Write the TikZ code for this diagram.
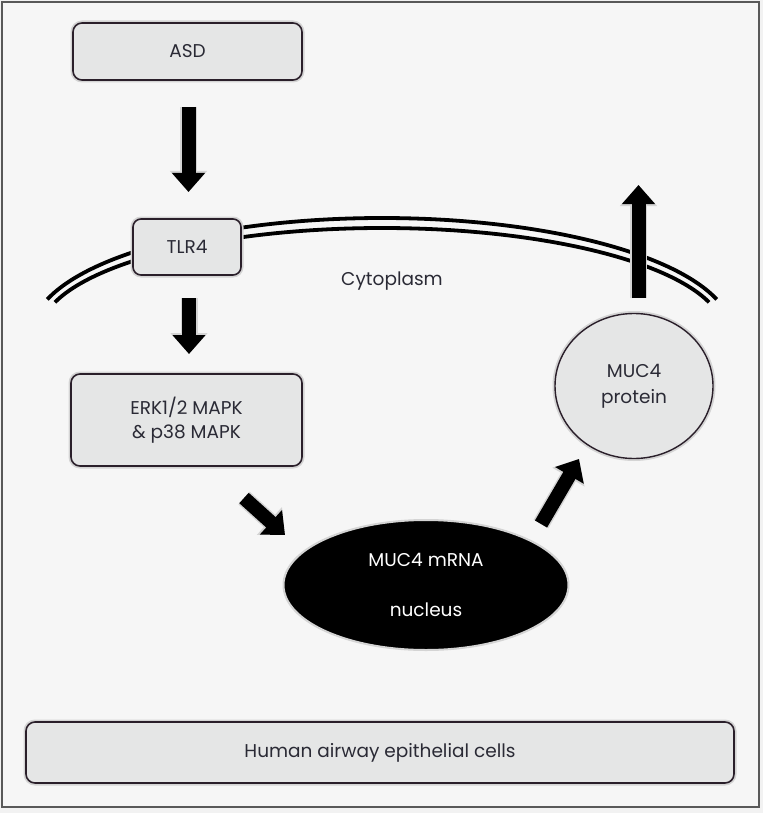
\documentclass[tikz,border=0pt]{standalone}
\usepackage{fontspec}
\setmainfont{Poppins}
\usetikzlibrary{arrows.meta,shapes.geometric}
\definecolor{bgin}{HTML}{F6F6F6}
\definecolor{bgout}{HTML}{F2F2F2}
\definecolor{boxfill}{HTML}{E5E6E6}
\definecolor{boxline}{HTML}{2A1F2A}
\definecolor{halo}{HTML}{D4D4D4}
\definecolor{txt}{HTML}{2A2A35}
\tikzset{
  txtfont/.style={font=\fontsize{18.5}{23}\selectfont},
  rbox/.style={rectangle, rounded corners=9pt, fill=boxfill, draw=boxline, line width=1.6pt,
    preaction={draw=halo, line width=5pt}, txtfont, text=txt, align=center, inner sep=0pt},
  bigarrow/.style={line width=14pt, -{Triangle[width=32pt,length=19pt]},
    preaction={draw=halo, line width=17pt, -{Triangle[width=36pt,length=21pt]}}},
  membrane/.style={line width=3.8pt, black},
  lbl/.style={txtfont, text=txt}
}
\begin{document}
\begin{tikzpicture}[x=1pt,y=-1pt]
\useasboundingbox (0,0) rectangle (763,813);
\fill[bgout] (0,0) rectangle (763,813);
\fill[bgin] (2,2) rectangle (759,807);
\draw[gray!70!black, line width=1.2pt] (2,2) rectangle (759,807);
% membrane
\begin{scope}
\clip (0,0) rectangle (763,304);
\draw[membrane] plot[domain=163:17, samples=120, smooth] ({382+350*cos(\x)}, {333-115*sin(\x)});
\draw[membrane] plot[domain=163:17, samples=120, smooth] ({382+342*cos(\x)}, {333-105*sin(\x)});
\end{scope}
\node[lbl] (cyto) at (392,281) {Cytoplasm};
% nodes
\node[rbox, minimum width=229pt, minimum height=57pt] (asd) at (187.5,51.5) {ASD};
\node[rbox, minimum width=108pt, minimum height=56pt, rounded corners=8pt] (tlr) at (187,247) {TLR4};
\node[rbox, minimum width=231pt, minimum height=92pt] (erk) at (186.5,420) {ERK1/2 MAPK\\[1pt]\& p38 MAPK};
\node[rbox, minimum width=708pt, minimum height=61pt] (cells) at (380,752.5) {Human airway epithelial cells};
\node[ellipse, fill=boxfill, draw=boxline, line width=1.4pt, preaction={draw=halo, line width=5pt},
  minimum width=158pt, minimum height=145pt, inner sep=0pt, align=center, text=txt,
  txtfont] (prot) at (634,386) {MUC4\\[3pt]protein};
\node[ellipse, fill=black, draw=halo, line width=2pt,
  minimum width=285pt, minimum height=130pt, inner sep=0pt, align=center, text=white,
  txtfont] (nuc) at (426,585) {MUC4 mRNA\\[27pt]nucleus};
% arrows
\coordinate (a1s) at (188.5,107);
\coordinate (a1e) at (188.5,192);
\coordinate (a2s) at (189,298);
\coordinate (a2e) at (189,354);
\coordinate (a3s) at (244,498);
\coordinate (a3e) at (285,535);
\coordinate (a4s) at (541,524);
\coordinate (a4e) at (579,459);
\coordinate (a5s) at (638.5,298);
\coordinate (a5e) at (638.5,185);
\draw[bigarrow] (a1s) -- (a1e);
\draw[bigarrow] (a2s) -- (a2e);
\draw[bigarrow] (a3s) -- (a3e);
\draw[bigarrow] (a4s) -- (a4e);
\draw[bigarrow] (a5s) -- (a5e);
\end{tikzpicture}
\end{document}
